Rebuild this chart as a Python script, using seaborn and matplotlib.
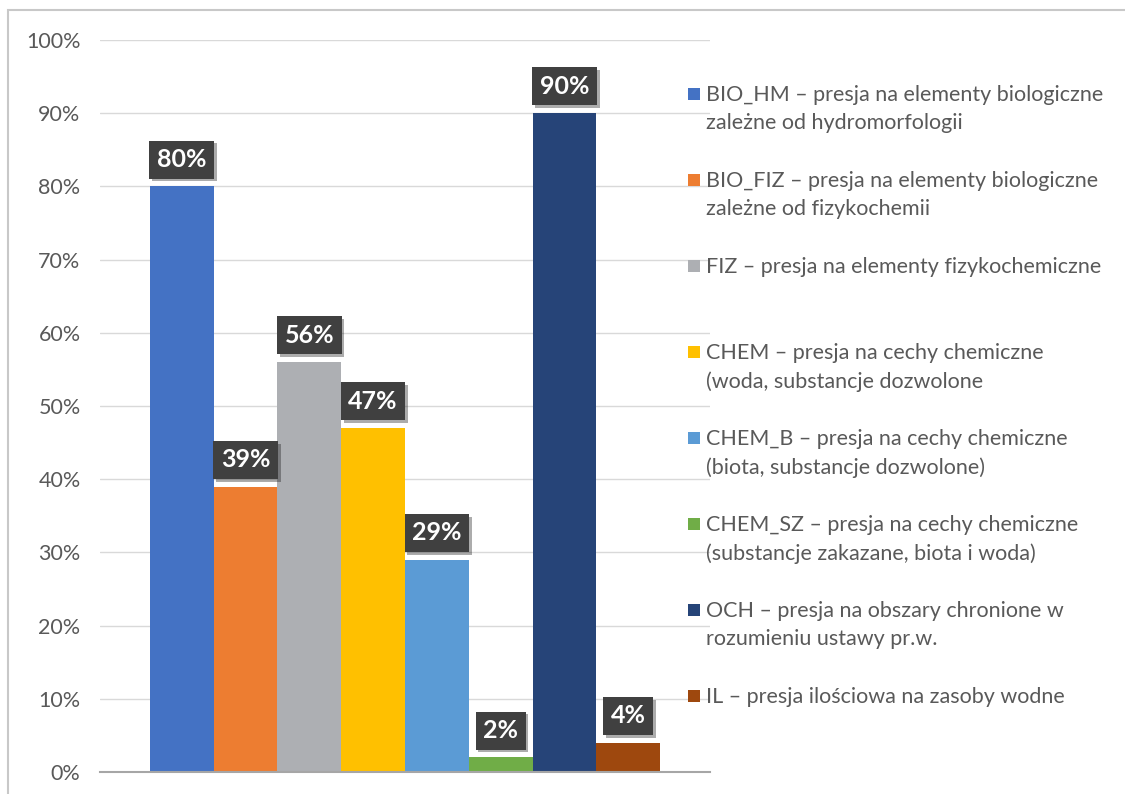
"""Udział presji w podziale na typy - odtworzenie wykresu słupkowego."""

import matplotlib

matplotlib.use("Agg")

import matplotlib.pyplot as plt
import matplotlib.patheffects as pe
from matplotlib.patches import Rectangle
import pandas as pd
import seaborn as sns

kody = ["BIO_HM", "BIO_FIZ", "FIZ", "CHEM", "CHEM_B", "CHEM_SZ", "OCH", "IL"]
udzial = [80, 39, 56, 47, 29, 2, 90, 4]
kolory = ["#4472C4", "#ED7D31", "#ADAFB3", "#FFC000", "#5B9BD5", "#70AD47", "#264478", "#9E480E"]
opisy = [
    "BIO_HM – presja na elementy biologiczne\nzależne od hydromorfologii",
    "BIO_FIZ – presja na elementy biologiczne\nzależne od fizykochemii",
    "FIZ – presja na elementy fizykochemiczne",
    "CHEM – presja na cechy chemiczne\n(woda, substancje dozwolone",
    "CHEM_B – presja na cechy chemiczne\n(biota, substancje dozwolone)",
    "CHEM_SZ – presja na cechy chemiczne\n(substancje zakazane, biota i woda)",
    "OCH – presja na obszary chronione w\nrozumieniu ustawy pr.w.",
    "IL – presja ilościowa na zasoby wodne",
]
yticks = list(range(0, 101, 10))

W, H = 1125, 794
TEXT = "#595959"

sns.set_style("white")
plt.rcParams["font.family"] = ["Lato", "DejaVu Sans"]

frame = pd.DataFrame({"kod": kody, "udzial": udzial})

fig = plt.figure(figsize=(W / 100, H / 100), dpi=100)
ax = fig.add_axes([100 / W, (H - 772) / H, 610 / W, 732 / H])

sns.barplot(data=frame, x="kod", y="udzial", hue="kod", palette=kolory,
            width=1.0, legend=False, ax=ax, saturation=1, linewidth=0)

ax.set_ylim(0, 100)
ax.set_xlim(-1.28, 8.28)
ax.set_yticks(yticks)
ax.set_yticklabels([f"{t}%" for t in yticks], color=TEXT, fontsize=15.5)
ax.tick_params(axis="y", length=0, pad=14)
ax.set_xticks([])
ax.set_xlabel("")
ax.set_ylabel("")
ax.yaxis.grid(True, color="#D9D9D9", linewidth=1)
ax.set_axisbelow(True)
for side in ["top", "right", "left"]:
    ax.spines[side].set_visible(False)
ax.spines["bottom"].set_color("#A6A6A6")
ax.spines["bottom"].set_linewidth(1.5)

# etykiety danych w ciemnych ramkach
for bar in ax.patches:
    h = bar.get_height()
    if h == 0:
        continue
    ann = ax.annotate(f"{h:.0f}%", (bar.get_x() + bar.get_width() / 2, h),
                      xytext=(0, 11), textcoords="offset points",
                      ha="center", va="bottom", color="white",
                      fontsize=18, fontweight="bold",
                      bbox=dict(boxstyle="square,pad=0.3", facecolor="#404040",
                                edgecolor="none"))
    ann.get_bbox_patch().set_path_effects(
        [pe.withSimplePatchShadow(offset=(2, -2), alpha=0.35), pe.Normal()])

# legenda rysowana ręcznie (równe odstępy jak w oryginale)
y0 = 94
for i, (kolor, opis) in enumerate(zip(kolory, opisy)):
    y = y0 + i * 86
    fig.patches.append(Rectangle((688 / W, 1 - (y + 6) / H), 12 / W, 12 / H,
                                 transform=fig.transFigure, facecolor=kolor,
                                 edgecolor="none"))
    fig.text(706 / W, 1 - (y - 9) / H, opis, color=TEXT, fontsize=15.5,
             va="top", ha="left", linespacing=1.52,
             transform=fig.transFigure)

# ramka obszaru wykresu
fig.patches.append(Rectangle((8 / W, -0.1), 1.2, 1 - 10 / H + 0.1,
                             transform=fig.transFigure, facecolor="none",
                             edgecolor="#C8C8C8", linewidth=1.5))

fig.savefig("out.png", dpi=100)
